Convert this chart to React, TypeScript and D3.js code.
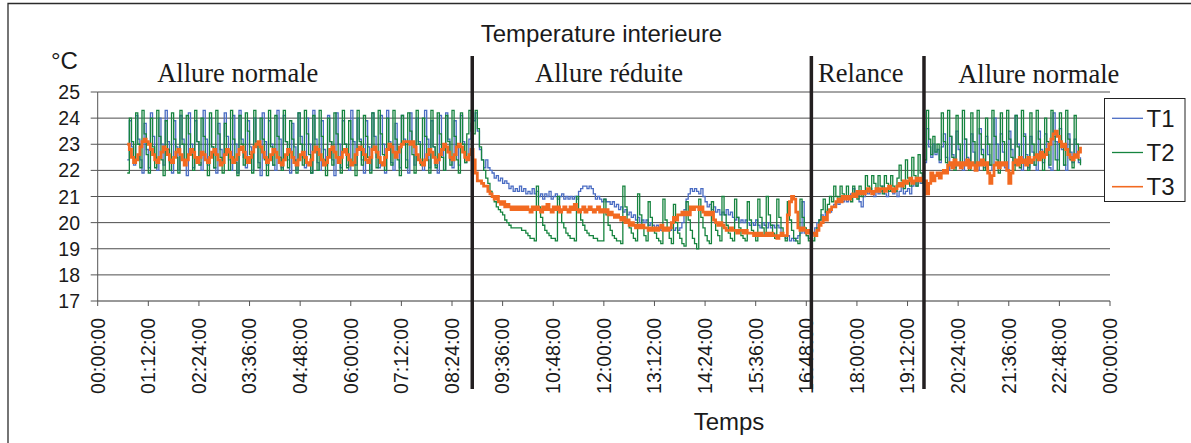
import React from "react";
import * as d3 from "d3";

// ---------- DATA (3-minute sampling) ----------
const STEP_H = 0.05; // 3 minutes in hours
const phaseStartHours = [0.7, 8.9, 16.95, 19.6];
const phaseLineHours = [8.88, 16.92, 19.59];
const periodLabels = ["Allure normale", "Allure réduite", "Relance", "Allure normale"];
const seriesNames = ["T1", "T2", "T3"];
const yTicks = [17, 18, 19, 20, 21, 22, 23, 24, 25];
const xTickLabels = [
  "00:00:00", "01:12:00", "02:24:00", "03:36:00", "04:48:00", "06:00:00", "07:12:00",
  "08:24:00", "09:36:00", "10:48:00", "12:00:00", "13:12:00", "14:24:00", "15:36:00",
  "16:48:00", "18:00:00", "19:12:00", "20:24:00", "21:36:00", "22:48:00", "00:00:00",
];
const xTickStepH = 1.2;

// T1 (blue)
const t1Normal1 = [
  22.4, 23.9, 22.9, 22.2, 24.1, 23.2, 22.4,
  21.9, 23.8, 22.8, 22.1, 24.2, 23.3, 22.5,
  22.0, 24.0, 23.0, 22.2, 24.3, 23.1, 22.3,
  21.9, 23.9, 22.9, 22.0, 24.1, 23.2, 22.4,
  21.8, 24.2, 23.0, 22.1, 23.9, 23.1, 22.3,
  22.0, 24.3, 23.2, 22.2, 24.0, 22.9, 22.1,
  21.9, 23.8, 22.8, 22.3, 24.2, 23.3, 22.4,
  22.0, 24.1, 23.0, 21.9, 24.3, 23.2, 22.5,
  22.1, 23.9, 22.9, 22.0, 24.0, 23.1, 22.3,
  21.8, 24.2, 23.1, 22.2, 23.9, 23.0, 22.2,
  22.0, 24.3, 23.2, 22.1, 24.1, 23.1, 22.4,
  21.9, 23.8, 22.9, 22.0, 24.2, 23.3, 22.5,
  22.1, 24.0, 23.0, 21.9, 24.3, 23.2, 22.3,
  22.0, 23.9, 22.8, 22.2, 24.1, 23.1, 22.4,
  21.8, 24.2, 23.0, 22.1, 23.9, 23.0, 22.2,
  22.0, 24.3, 23.1, 22.2, 24.0, 23.2, 22.4,
  21.9, 23.9, 22.9, 22.0, 24.2, 23.3, 22.5,
  22.1, 24.1, 23.0, 21.9, 24.3, 23.1, 22.3,
  22.0, 23.8, 22.8, 22.1, 24.1, 23.2, 22.4,
  21.9, 24.2, 23.0, 22.2, 24.0, 23.1, 22.3,
  22.0, 24.3, 23.2, 22.1, 23.9, 22.9, 22.2,
  21.9, 24.1, 23.0, 22.0, 24.2, 23.2, 22.4,
  22.1, 23.9, 22.9, 22.2, 24.1, 23.1, 22.3,
  22.5, 23.2, 23.8,
];
const t1Reduced = [
  23.9, 24.2, 23.5, 22.8, 22.4, 22.1, 22.4, 22.1, 22.0, 21.9,
  21.7, 21.8, 21.6, 21.7, 21.5, 21.6, 21.5, 21.3, 21.4, 21.2,
  21.3, 21.2, 21.4, 21.2, 21.3, 21.1, 21.2, 21.1, 21.3, 21.1,
  21.2, 21.0, 21.1, 20.9, 21.1, 21.0, 21.2, 20.9, 21.0, 21.1,
  20.9, 21.0, 21.1, 20.9, 21.0, 20.9, 21.0, 20.9, 21.0, 20.9,
  21.2, 21.3, 21.4, 21.4, 21.3, 21.4, 21.3, 21.1,
  20.9, 21.0, 20.9, 20.8, 20.9, 20.8, 20.8, 20.7, 20.8, 20.6, 20.7, 20.5,
  20.6, 20.4, 20.5, 20.3, 20.4, 20.2, 20.3, 20.1, 20.2, 20.0, 20.1, 20.0,
  20.1, 19.9, 20.0, 19.9, 19.8, 19.9, 19.8, 19.7, 19.8,
  19.7, 19.8, 19.7, 19.8, 19.7, 19.8, 19.7, 19.8, 20.0,
  20.5, 20.9, 21.1, 21.3, 21.2, 21.3, 21.2, 21.1, 21.3, 21.0,
  20.8, 20.6, 20.7, 20.5, 20.6, 20.4,
  20.5, 20.3, 20.4, 20.3, 20.5, 20.3, 20.4, 20.2,
  20.1, 20.2, 20.0, 20.1, 20.0, 20.1, 20.0, 19.9,
  20.0, 19.9, 20.1, 19.9, 19.8, 20.0, 19.9, 19.8, 20.0, 19.8, 19.9, 19.8, 19.9, 19.8,
  19.6, 19.5, 19.4, 19.5, 19.3, 19.4, 19.3, 19.4, 19.5, 19.6, 20.8, 19.6, 19.5, 19.4, 19.5,
];
const t1Relance = [
  19.6, 19.8, 20.0, 20.1, 20.3, 20.2, 20.4, 20.5, 20.4, 20.6,
  20.7, 20.8, 20.7, 20.9, 20.8, 20.9, 20.8, 21.0,
  21.1, 21.3, 21.0, 21.2, 20.8, 20.6, 21.0, 21.2,
  21.1, 21.3, 21.2, 21.0, 21.3, 21.1, 21.2, 21.4, 21.1, 21.0, 21.3,
  21.2, 21.1, 21.3, 21.0, 21.2, 21.4, 21.1, 21.2, 21.3, 21.1,
  21.4, 21.6, 21.4, 21.7, 21.5, 21.6,
];
const t1Normal2 = [
  22.3, 23.6, 22.9, 22.5, 23.0, 22.6, 22.8, 22.3,
  22.9, 23.4, 22.5, 22.0, 23.3, 22.6, 22.1,
  23.5, 22.8, 22.2, 22.0, 23.2, 22.5, 22.1,
  23.4, 22.7, 22.2, 22.0, 23.6, 22.8, 22.1,
  23.3, 22.6, 22.2, 22.0, 24.0, 23.0, 22.3,
  23.4, 22.7, 22.1, 22.0, 23.5, 22.8, 22.2,
  24.1, 23.0, 22.4, 22.0, 23.4, 22.6, 22.1,
  23.3, 22.7, 22.2, 22.0, 23.5, 22.8, 22.3,
  23.4, 22.6, 22.1, 22.0, 24.2, 23.1, 22.4,
  23.6, 22.8, 22.2, 22.0, 23.4, 22.7, 22.3,
  23.2, 22.6, 22.3, 22.5,
];

// T2 (green)
const t2Normal1 = [
  21.9, 24.0, 23.1, 22.3, 24.2, 23.0, 22.1,
  24.3, 23.4, 22.6, 21.9, 24.0, 22.9, 22.1,
  24.3, 23.3, 22.4, 21.8, 23.9, 22.8, 22.0,
  24.2, 23.2, 22.5, 21.9, 24.3, 23.0, 22.2,
  24.1, 23.4, 22.6, 22.0, 24.3, 23.1, 22.2,
  24.0, 23.3, 22.4, 21.8, 24.2, 22.9, 22.1,
  24.3, 23.4, 22.5, 21.9, 23.8, 22.8, 22.0,
  24.3, 23.2, 22.3, 21.8, 24.1, 23.0, 22.2,
  24.2, 23.5, 22.6, 21.9, 24.3, 23.0, 22.1,
  24.0, 23.2, 22.4, 21.8, 24.3, 22.9, 22.2,
  24.1, 23.3, 22.5, 22.0, 24.3, 23.1, 22.1,
  23.9, 23.2, 22.4, 21.9, 24.2, 23.0, 22.2,
  24.3, 23.4, 22.6, 21.9, 24.1, 22.9, 22.0,
  24.3, 23.3, 22.4, 21.8, 24.0, 23.1, 22.2,
  24.2, 23.4, 22.5, 21.9, 24.3, 23.0, 22.1,
  23.9, 23.2, 22.3, 21.8, 24.3, 23.1, 22.2,
  24.1, 23.3, 22.5, 21.9, 24.2, 22.9, 22.1,
  24.3, 23.4, 22.6, 22.0, 24.0, 23.0, 22.2,
  24.3, 23.2, 22.4, 21.8, 24.1, 23.1, 22.1,
  24.2, 23.5, 22.6, 21.9, 24.3, 23.0, 22.2,
  24.0, 23.3, 22.4, 21.9, 24.3, 22.9, 22.1,
  24.2, 23.4, 22.5, 22.0, 24.1, 23.1, 22.2,
  24.3, 23.3, 22.4, 21.9, 24.2, 23.0, 22.3,
  23.4, 24.3, 23.5,
];
const t2Reduced = [
  23.4, 24.3, 23.6, 22.9, 22.4, 22.0, 21.7, 21.5, 21.2, 21.0,
  20.8, 20.6, 20.5, 20.4, 20.3, 20.1, 20.0, 19.9, 19.8, 19.8,
  19.8, 19.8, 19.8, 19.7, 19.7, 19.6, 19.5, 19.4, 19.4, 19.3,
  21.4, 20.6, 20.2, 19.9, 19.7, 19.6, 19.5, 19.4, 19.4, 19.3,
  21.0, 20.4, 20.0, 19.8, 19.6, 19.5, 19.4, 19.4, 19.3,
  21.0, 20.5, 20.1, 19.9, 19.7, 19.6, 19.5, 19.5, 19.4, 19.4, 19.3, 19.3, 19.3,
  20.9, 20.3, 19.9, 19.7, 19.5, 19.4, 19.3, 19.3, 19.2,
  21.4, 20.6, 20.1, 19.8, 19.6, 19.4, 19.3,
  21.1, 20.3, 19.8, 19.5, 19.3,
  20.8, 20.2, 19.8, 19.6, 19.4, 19.3, 19.2,
  20.9, 20.1, 19.7, 19.4, 19.2,
  20.7, 20.0, 19.6, 19.4, 19.2, 19.1,
  20.8, 20.1, 19.7, 19.4, 19.2, 19.0,
  20.9, 20.2, 19.8, 19.5, 19.3, 19.2,
  20.8, 20.1, 19.7, 19.5, 19.3,
  21.0, 20.3, 19.9, 19.6, 19.4, 19.3,
  20.9, 20.2, 19.8, 19.5, 19.4, 19.3,
  20.8, 20.1, 19.7, 19.5, 19.3,
  20.9, 20.2, 19.8, 19.5,
  21.0, 20.3, 19.9, 19.6, 19.4,
  20.9, 20.2, 19.8, 19.5, 19.3,
  20.8, 20.1, 19.7, 19.4, 19.3, 19.2,
  20.9, 20.2, 19.8, 19.5, 19.3, 19.4,
];
const t2Relance = [
  19.3, 19.5, 19.8, 20.1, 20.5, 20.9, 20.4, 20.7, 21.0, 20.8,
  21.4, 21.0, 20.8, 21.4, 21.1, 20.9, 21.4, 21.0, 20.8, 21.4, 21.1, 20.9, 21.4, 21.0, 21.1,
  21.8, 21.4, 21.2, 21.8, 21.5, 21.2, 21.8, 21.4, 21.1, 21.8, 21.5, 21.2, 21.8, 21.4, 21.2, 21.7,
  22.2, 21.6, 21.3, 22.4, 21.7, 21.4, 22.5, 21.8, 21.4, 22.6, 21.9, 21.5,
];
const t2Normal2 = [
  22.4, 24.3, 23.2, 22.6, 23.3, 22.7, 23.0, 22.4,
  24.2, 23.1, 22.3, 24.3, 23.3, 22.5, 22.0,
  24.1, 23.0, 22.2, 24.3, 23.2, 22.4, 22.0,
  24.2, 23.1, 22.1, 24.3, 23.4, 22.6, 22.0,
  24.0, 23.0, 22.2, 24.3, 23.3, 22.4, 21.9,
  24.2, 23.1, 22.2, 24.3, 23.2, 22.5, 22.0,
  24.1, 22.9, 22.1, 24.3, 23.3, 22.4, 22.0,
  24.2, 23.0, 22.2, 24.3, 23.2, 22.5, 22.0,
  24.0, 23.1, 22.2, 24.3, 23.3, 22.4, 22.0,
  24.2, 23.0, 22.2, 24.3, 23.2, 22.4, 22.1,
  24.1, 23.0, 22.4, 22.2,
];

// T3 (orange)
const t3Normal1 = [
  23.0, 22.8, 22.5, 22.3, 22.4, 22.6, 22.9, 23.1, 23.2, 23.1,
  23.0, 22.8, 22.6, 22.4, 22.3, 22.5, 22.7, 22.9, 22.8, 22.6,
  22.4, 22.3, 22.5, 22.7, 22.8, 22.6, 22.4, 22.2, 22.4, 22.6,
  22.8, 22.7, 22.5, 22.3, 22.5, 22.7, 22.6, 22.4, 22.3, 22.5,
  22.7, 22.8, 22.6, 22.4, 22.2, 22.3, 22.6, 22.8, 22.7, 22.5,
  22.3, 22.4, 22.6, 22.8, 22.9, 22.7, 22.5, 22.3, 22.5, 22.7,
  22.9, 23.0, 23.1, 22.9, 22.7, 22.5, 22.3, 22.4, 22.6, 22.8,
  22.7, 22.5, 22.3, 22.2, 22.4, 22.6, 22.8, 22.7, 22.5, 22.3,
  22.2, 22.4, 22.6, 22.7, 22.5, 22.3, 22.2, 22.4, 22.7, 22.9,
  22.8, 22.6, 22.4, 22.2, 22.3, 22.5, 22.8, 22.9, 22.7, 22.5,
  22.3, 22.5, 22.7, 22.8, 22.6, 22.4, 22.2, 22.3, 22.6, 22.8,
  22.9, 22.8, 22.6, 22.4, 22.3, 22.5, 22.8, 22.9, 22.7, 22.5,
  22.3, 22.2, 22.5, 22.8, 23.0, 22.9, 22.7, 22.5, 22.7, 22.9,
  23.0, 23.1, 23.1, 23.1, 23.0, 23.1, 22.9, 22.6, 22.4, 22.3,
  22.2, 22.4, 22.6, 22.8, 22.7, 22.5, 22.3, 22.4, 22.6, 22.8,
  23.0, 22.9, 22.7, 22.5, 22.4, 22.6, 22.9, 23.0, 22.9, 22.7, 22.5, 22.4, 22.6, 22.8,
];
const t3Reduced = [
  22.4, 21.9, 21.6, 21.6, 21.5, 21.4, 21.4, 21.2, 21.1, 21.0,
  20.9, 21.0, 20.8, 20.7, 20.8, 20.6, 20.7, 20.6, 20.5, 20.6,
  20.5, 20.6, 20.5, 20.6, 20.5, 20.6, 20.5, 20.4, 20.6, 20.5,
  20.6, 20.5, 20.4, 20.6, 20.5, 20.7, 20.5, 20.4, 20.6, 20.5, 20.6, 20.4, 20.5, 20.6, 20.5, 20.4,
  20.6, 20.5, 20.7, 20.5, 20.4, 20.5, 20.6, 20.4, 20.5, 20.6, 20.5, 20.4, 20.5, 20.6, 20.4, 20.5,
  20.4, 20.5, 20.3, 20.4, 20.3, 20.2, 20.3, 20.2, 20.1, 20.2,
  20.0, 20.1, 19.9, 20.0, 19.9, 19.8, 19.9, 19.8, 19.9, 19.8,
  19.8, 19.7, 19.8, 19.7, 19.8, 19.7, 19.8, 19.9, 19.7, 19.8, 19.7, 19.8,
  20.0, 20.2, 20.1, 20.3,
  20.3, 20.4, 20.3, 20.4, 20.3,
  20.6, 20.5, 20.6, 20.6, 20.5, 20.6, 20.4,
  20.3, 20.4, 20.3, 20.4,
  20.1, 20.0, 19.9, 20.0, 19.9, 19.8,
  19.7, 19.7, 19.8, 19.7, 19.7, 19.6, 19.7, 19.7, 19.6, 19.7, 19.6, 19.6,
  19.6, 19.5, 19.6, 19.5, 19.6, 19.5, 19.5, 19.6, 19.5, 19.6, 19.5, 19.5, 19.4, 19.5, 19.6, 19.5, 19.5,
  20.3, 20.8, 21.0, 20.9, 20.4,
  19.8, 19.7, 19.8, 19.7, 19.6, 19.7, 19.6,
];
const t3Relance = [
  19.6, 19.5, 19.7, 19.9, 20.0, 20.2, 20.1, 20.4, 20.5, 20.6,
  20.6, 20.8, 20.9, 20.8, 21.0, 20.9, 21.0, 20.9, 21.0,
  21.1, 21.0, 21.2, 21.1, 21.2, 21.1, 21.2, 21.3, 21.2, 21.1, 21.2,
  21.3, 21.2, 21.3, 21.3, 21.2, 21.3, 21.4, 21.3, 21.2, 21.3, 21.4,
  21.5, 21.4, 21.6, 21.5, 21.6, 21.7, 21.5, 21.6, 21.7, 21.6, 21.7, 21.6,
];
const t3Normal2 = [
  21.6, 21.1, 21.5, 21.9, 21.6, 21.8, 21.9, 21.7, 21.9, 22.0, 21.9, 22.2,
  22.3, 22.1, 22.4, 22.2, 22.3, 22.1, 22.3, 22.2, 22.4, 22.1, 22.3, 22.2, 22.0, 22.3, 22.2, 22.4,
  22.2, 22.3, 21.9, 21.5, 21.8, 22.2,
  22.3, 22.1, 22.3, 22.2, 22.3, 22.0,
  21.5, 21.9,
  22.3, 22.4, 22.2, 22.5, 22.3, 22.4, 22.2, 22.5, 22.3, 22.4,
  22.5, 22.6, 22.4, 22.7, 22.5, 22.6,
  22.8, 23.0, 23.2, 23.4, 23.5, 23.3,
  23.1, 22.9, 23.0, 22.8,
  22.6, 22.5, 22.4, 22.6, 22.5,
  22.7, 22.9,
];

const seriesPhases = [
  [t1Normal1, t1Reduced, t1Relance, t1Normal2],
  [t2Normal1, t2Reduced, t2Relance, t2Normal2],
  [t3Normal1, t3Reduced, t3Relance, t3Normal2],
];

// ---------- STYLE / LAYOUT ----------
const COLORS = ["#4a6cc3", "#16843f", "#f26a21"];
const WIDTHS = [1.3, 1.3, 2.8];
const SANS = "'Liberation Sans', Arial, sans-serif";
const SERIF = "'Liberation Serif', 'Times New Roman', serif";
const labelStartHours = [1.41, 10.37, 17.08, 20.4];
const labelBaselines = [82, 82, 82, 83];

type Pt = { h: number; v: number };

function buildSeries(phases: number[][]): Pt[] {
  const pts: Pt[] = [];
  phases.forEach((arr, p) => {
    arr.forEach((v, i) => pts.push({ h: phaseStartHours[p] + i * STEP_H, v }));
  });
  return pts;
}

export default function App() {
  const W = 1191;
  const H = 443;
  const x = d3.scaleLinear().domain([0, 24]).range([97.7, 1110]);
  const y = d3.scaleLinear().domain([17, 25]).range([301, 92]);
  const line = d3
    .line<Pt>()
    .x((d) => x(d.h))
    .y((d) => y(d.v))
    .curve(d3.curveStepAfter);

  const series = seriesPhases.map(buildSeries);
  const x0 = x(0);
  const x1 = x(24);
  const yBase = y(17);

  return (
    <svg
      width={W}
      height={H}
      style={{ position: "absolute", left: 0, top: 0, background: "#fff" }}
    >
      {/* outer frame */}
      <path d={`M8,${H + 5} V3.5 H${W + 5}`} fill="none" stroke="#2b2b2b" strokeWidth={1.3} />

      {/* title */}
      <text x={601.5} y={41.5} textAnchor="middle" fontFamily={SANS} fontSize={24} fill="#1a1a1a">
        Temperature interieure
      </text>
      <text x={51} y={69} fontFamily={SANS} fontSize={24} fill="#1a1a1a">
        °C
      </text>

      {/* gridlines */}
      {yTicks.slice(1).map((t) => (
        <line key={"g" + t} x1={x0} x2={x1} y1={y(t)} y2={y(t)} stroke="#4d4d4d" strokeWidth={1} />
      ))}

      {/* y axis */}
      <line x1={x0} x2={x0} y1={y(25)} y2={yBase} stroke="#555" strokeWidth={1} />
      {yTicks.map((t) => (
        <g key={"yt" + t}>
          <line x1={x0 - 7} x2={x0} y1={y(t)} y2={y(t)} stroke="#555" strokeWidth={1} />
          <text
            x={80}
            y={y(t)}
            dy="0.36em"
            textAnchor="end"
            fontFamily={SANS}
            fontSize={19.5}
            fill="#1a1a1a"
          >
            {t}
          </text>
        </g>
      ))}

      {/* x axis */}
      <line x1={x0} x2={x1} y1={yBase} y2={yBase} stroke="#333" strokeWidth={1} />
      {xTickLabels.map((lab, i) => {
        const xt = x(i * xTickStepH);
        return (
          <g key={"xt" + i}>
            <line x1={xt} x2={xt} y1={yBase} y2={yBase + 5} stroke="#555" strokeWidth={1} />
            <text
              transform={`translate(${xt},318) rotate(-90)`}
              dy="0.35em"
              textAnchor="end"
              fontFamily={SANS}
              fontSize={19.5}
              fill="#1a1a1a"
            >
              {lab}
            </text>
          </g>
        );
      })}
      <text x={729} y={430} textAnchor="middle" fontFamily={SANS} fontSize={24} fill="#1a1a1a">
        Temps
      </text>

      {/* data */}
      {series.map((pts, k) => (
        <path
          key={"s" + k}
          d={line(pts) || ""}
          fill="none"
          stroke={COLORS[k]}
          strokeWidth={WIDTHS[k]}
          strokeLinejoin="miter"
        />
      ))}

      {/* phase separators */}
      {phaseLineHours.map((h, i) => (
        <line key={"pl" + i} x1={x(h)} x2={x(h)} y1={56} y2={389} stroke="#231f20" strokeWidth={3.5} />
      ))}

      {/* period labels */}
      {periodLabels.map((lab, i) => (
        <text
          key={"lab" + i}
          x={x(labelStartHours[i])}
          y={labelBaselines[i]}
          fontFamily={SERIF}
          fontSize={26.5}
          fill="#1a1a1a"
        >
          {lab}
        </text>
      ))}

      {/* legend */}
      <rect x={1104.5} y={98.5} width={80.5} height={103} fill="#fff" stroke="#222" strokeWidth={1} />
      {seriesNames.map((n, i) => {
        const ly = 118.3 + i * 34.2;
        return (
          <g key={"lg" + n}>
            <line x1={1112} x2={1143} y1={ly} y2={ly} stroke={COLORS[i]} strokeWidth={i === 2 ? 1.6 : 1.3} />
            <text x={1146.5} y={ly} dy="0.36em" fontFamily={SANS} fontSize={24} fill="#1a1a1a">
              {n}
            </text>
          </g>
        );
      })}
    </svg>
  );
}
